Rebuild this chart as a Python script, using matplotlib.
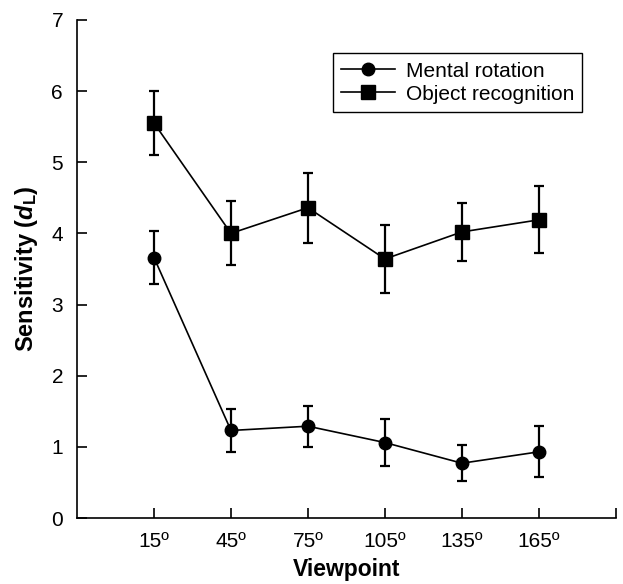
import matplotlib
matplotlib.use("Agg")
import matplotlib.pyplot as plt

plt.rcParams['font.family'] = ['Liberation Sans', 'DejaVu Sans']
plt.rcParams['mathtext.fontset'] = 'custom'
plt.rcParams['mathtext.it'] = 'Liberation Sans:bold:italic'
plt.rcParams['mathtext.rm'] = 'Liberation Sans:bold'
plt.rcParams['mathtext.bf'] = 'Liberation Sans:bold'

# data
viewpoints = ["15º", "45º", "75º", "105º", "135º", "165º"]
mental = [3.66, 1.23, 1.29, 1.06, 0.77, 0.93]
mental_err = [0.37, 0.30, 0.29, 0.33, 0.25, 0.36]
objrec = [5.55, 4.00, 4.36, 3.64, 4.02, 4.19]
objrec_err = [0.45, 0.45, 0.49, 0.48, 0.41, 0.47]

xpos = list(range(1, len(viewpoints) + 1))

fig = plt.figure(figsize=(6.23, 5.84), dpi=100)
ax = fig.add_axes([0.1236, 0.113, 0.865, 0.853])

ax.errorbar(xpos, mental, yerr=mental_err, color='black', marker='o',
            markersize=9, linewidth=1.2, elinewidth=1.6, capsize=3.5,
            capthick=1.6, label="Mental rotation")
ax.errorbar(xpos, objrec, yerr=objrec_err, color='black', marker='s',
            markersize=10, linewidth=1.2, elinewidth=1.6, capsize=3.5,
            capthick=1.6, label="Object recognition")

ax.set_xlim(0, 7)
ax.set_ylim(0, 7)
ax.set_xticks(xpos + [7])
ax.set_xticklabels(viewpoints + [""])
ax.set_yticks(range(8))
ax.tick_params(direction='in', length=7, width=1.2, labelsize=15)
ax.tick_params(axis='x', pad=10)
ax.tick_params(axis='y', pad=10)

for side in ['top', 'right']:
    ax.spines[side].set_visible(False)
for side in ['left', 'bottom']:
    ax.spines[side].set_linewidth(1.2)

ax.set_xlabel("Viewpoint", fontsize=16.5, fontweight='bold', labelpad=5)
ax.set_ylabel(r"Sensitivity ($d_{\rm L}$)", fontsize=17, fontweight='bold', labelpad=8)

handles, labels = ax.get_legend_handles_labels()
leg = ax.legend([h[0] for h in handles], labels, loc='upper right',
                bbox_to_anchor=(0.957, 0.954), fontsize=15, fancybox=False,
                edgecolor='black', framealpha=1, handlelength=2.6,
                borderpad=0.4, labelspacing=0.2, handletextpad=0.5)
leg.get_frame().set_linewidth(1.0)

fig.savefig("out.png", dpi=100)
